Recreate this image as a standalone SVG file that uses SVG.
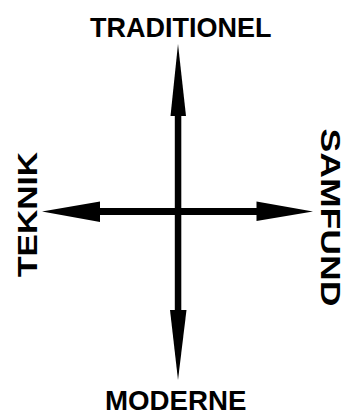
<svg xmlns="http://www.w3.org/2000/svg" width="345" height="414" viewBox="0 0 345 414">
<style>
.lbl{font-family:"Liberation Sans",Arial,sans-serif;font-weight:bold;font-size:28px;fill:#000}
.ar{fill:#000;stroke:none}
</style>
<rect width="345" height="414" fill="#fff"/>
<g id="connectors">
<rect class="ar" x="174.8" y="112" width="6.5" height="202"/>
<rect class="ar" x="96" y="208" width="165" height="7"/>
<polygon class="ar" points="178,44 186,116 170.5,116"/>
<polygon class="ar" points="178,380 170,310 186.5,310"/>
<polygon class="ar" points="42,211.5 100,201.5 100,222"/>
<polygon class="ar" points="313,211.5 256.5,201.5 256.5,221"/>
</g>
<g id="node-traditionel"><text class="lbl" x="90" y="36.5" font-size="27" textLength="181.5" lengthAdjust="spacingAndGlyphs">TRADITIONEL</text></g>
<g id="node-moderne"><text class="lbl" x="105" y="409.5" textLength="141.5" lengthAdjust="spacingAndGlyphs">MODERNE</text></g>
<g id="node-teknik"><text class="lbl" transform="translate(36.5,277) rotate(-90)" x="0" y="0" font-size="27" textLength="125" lengthAdjust="spacingAndGlyphs">TEKNIK</text></g>
<g id="node-samfund"><text class="lbl" transform="translate(321,128.5) rotate(90)" x="0" y="0" font-size="26" textLength="178" lengthAdjust="spacingAndGlyphs">SAMFUND</text></g>
</svg>
